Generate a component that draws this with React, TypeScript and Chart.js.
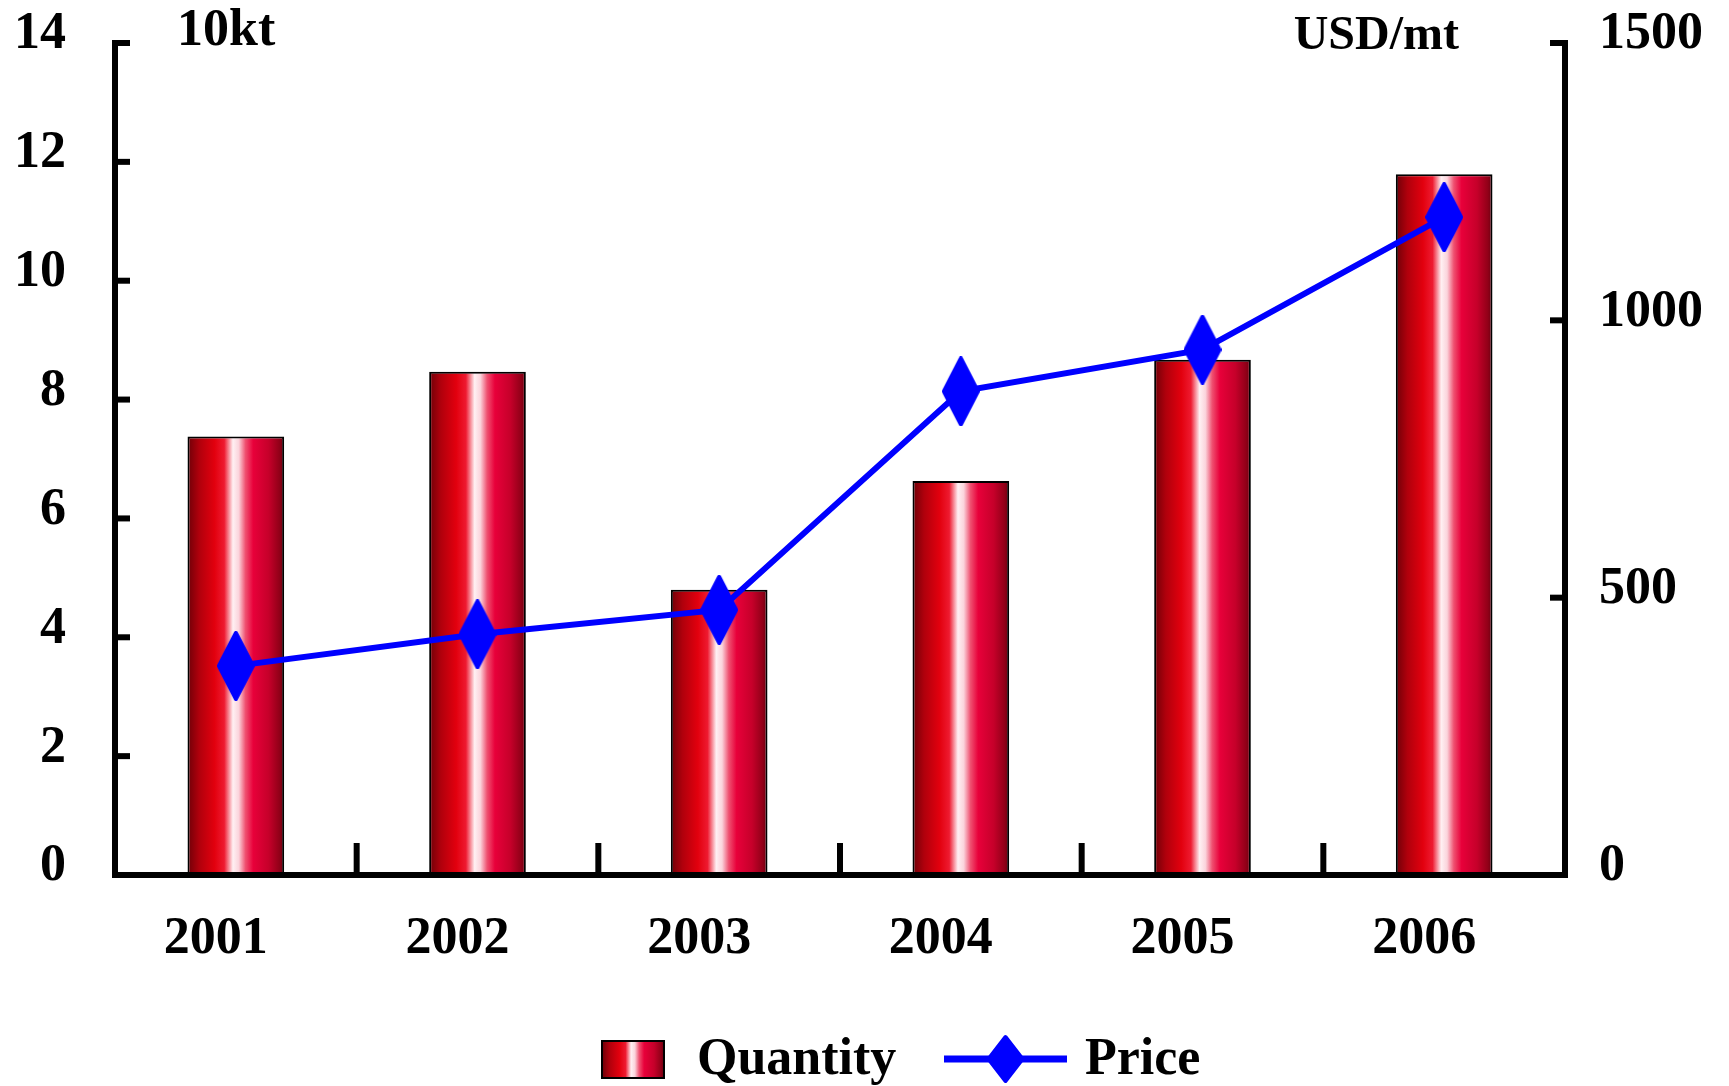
import React, { useEffect, useRef } from 'react';
import { Chart, registerables } from 'chart.js';

Chart.register(...registerables);

const years = ['2001', '2002', '2003', '2004', '2005', '2006'];
const quantity = [7.38, 8.47, 4.8, 6.63, 8.67, 11.79];
const price = [377, 434, 478, 872, 947, 1186];
const quantityLabel = 'Quantity';
const priceLabel = 'Price';
const leftUnit = '10kt';
const rightUnit = 'USD/mt';
const leftMax = 14;
const leftStep = 2;
const rightMax = 1500;
const rightStep = 500;

const W = 1729;
const H = 1086;
const FAMILY = '"Liberation Serif", "Times New Roman", serif';
const FONT = 'bold 52px ' + FAMILY;

function barGradient(ctx: CanvasRenderingContext2D, x0: number, x1: number) {
  const g = ctx.createLinearGradient(x0, 0, x1, 0);
  g.addColorStop(0, '#6e0008');
  g.addColorStop(0.12, '#b0000c');
  g.addColorStop(0.28, '#e2000e');
  g.addColorStop(0.38, '#ee1a30');
  g.addColorStop(0.47, '#fff0f3');
  g.addColorStop(0.53, '#fbd4dc');
  g.addColorStop(0.6, '#ef5070');
  g.addColorStop(0.68, '#e8003a');
  g.addColorStop(0.84, '#c6002a');
  g.addColorStop(0.95, '#920018');
  g.addColorStop(1, '#6a0010');
  return g;
}

function diamondPath(ctx: CanvasRenderingContext2D, cx: number, cy: number, w: number, h: number) {
  ctx.beginPath();
  ctx.moveTo(cx, cy - h / 2);
  ctx.lineTo(cx + w / 2, cy);
  ctx.lineTo(cx, cy + h / 2);
  ctx.lineTo(cx - w / 2, cy);
  ctx.closePath();
}

function makeDiamond(w: number, h: number) {
  const c = document.createElement('canvas');
  c.width = w;
  c.height = h;
  const ctx = c.getContext('2d')!;
  ctx.fillStyle = '#0000ff';
  ctx.strokeStyle = '#0000ff';
  ctx.lineWidth = 4;
  ctx.lineJoin = 'round';
  diamondPath(ctx, w / 2, h / 2, w - 4, h - 4);
  ctx.fill();
  ctx.stroke();
  return c;
}

const gradientPlugin = {
  id: 'barGradient',
  beforeDatasetsDraw(chart: any) {
    chart.data.datasets.forEach((ds: any, di: number) => {
      if (ds.type !== 'bar') return;
      const meta = chart.getDatasetMeta(di);
      meta.data.forEach((el: any) => {
        const { x, width } = el.getProps(['x', 'width'], true);
        if (isFinite(x) && isFinite(width) && el.options) {
          el.options.backgroundColor = barGradient(chart.ctx, x - width / 2, x + width / 2);
        }
      });
    });
  },
};

const axesPlugin = {
  id: 'customAxes',
  afterDraw(chart: any) {
    const ctx: CanvasRenderingContext2D = chart.ctx;
    const area = chart.chartArea;
    const xs = chart.scales.x;
    const yl = chart.scales.y;
    const yr = chart.scales.y1;
    ctx.save();
    ctx.strokeStyle = '#000';
    ctx.fillStyle = '#000';
    ctx.lineWidth = 6;
    ctx.lineCap = 'butt';
    ctx.beginPath();
    ctx.moveTo(area.left, area.top - 3);
    ctx.lineTo(area.left, area.bottom + 3);
    ctx.stroke();
    ctx.beginPath();
    ctx.moveTo(area.right, area.top - 3);
    ctx.lineTo(area.right, area.bottom + 3);
    ctx.stroke();
    ctx.beginPath();
    ctx.moveTo(area.left - 3, area.bottom);
    ctx.lineTo(area.right + 3, area.bottom);
    ctx.stroke();
    yl.ticks.forEach((t: any) => {
      const y = yl.getPixelForValue(t.value);
      ctx.beginPath();
      ctx.moveTo(area.left, y);
      ctx.lineTo(area.left + 15, y);
      ctx.stroke();
    });
    yr.ticks.forEach((t: any) => {
      const y = yr.getPixelForValue(t.value);
      ctx.beginPath();
      ctx.moveTo(area.right, y);
      ctx.lineTo(area.right - 15, y);
      ctx.stroke();
    });
    for (let i = 1; i < years.length; i++) {
      const x = (xs.getPixelForValue(i - 1) + xs.getPixelForValue(i)) / 2;
      ctx.beginPath();
      ctx.moveTo(x, area.bottom);
      ctx.lineTo(x, area.bottom - 32);
      ctx.stroke();
    }
    ctx.font = FONT;
    ctx.textBaseline = 'alphabetic';
    ctx.textAlign = 'left';
    ctx.fillText(leftUnit, 177, 45);
    ctx.font = 'bold 48px ' + FAMILY;
    ctx.textAlign = 'right';
    ctx.fillText(rightUnit, 1459, 49);

    ctx.font = FONT;
    const ds = chart.data.datasets;
    const ly = 1059;
    ctx.fillStyle = barGradient(ctx, 602, 664);
    ctx.fillRect(602, 1041, 62, 37);
    ctx.lineWidth = 2;
    ctx.strokeStyle = '#000';
    ctx.strokeRect(602, 1041, 62, 37);
    ctx.fillStyle = '#000';
    ctx.textAlign = 'left';
    ctx.fillText(ds[1].label, 697, 1074);
    ctx.strokeStyle = '#0000ff';
    ctx.lineWidth = 7;
    ctx.beginPath();
    ctx.moveTo(944, ly);
    ctx.lineTo(1067, ly);
    ctx.stroke();
    ctx.fillStyle = '#0000ff';
    ctx.lineWidth = 4;
    ctx.lineJoin = 'round';
    diamondPath(ctx, 1005.5, ly, 34, 44);
    ctx.fill();
    ctx.stroke();
    ctx.fillStyle = '#000';
    ctx.fillText(ds[0].label, 1085, 1074);
    ctx.restore();
  },
};

export default function App() {
  const ref = useRef<HTMLCanvasElement>(null);
  useEffect(() => {
    const canvas = ref.current!;
    const marker = makeDiamond(38, 70);
    const tickFont = { family: FAMILY, weight: 'bold' as const, size: 52 };
    const plain = (v: any) => String(v);
    const chart = new Chart(canvas, {
      type: 'bar',
      data: {
        labels: years,
        datasets: [
          {
            type: 'line',
            label: priceLabel,
            data: price,
            yAxisID: 'y1',
            borderColor: '#0000ff',
            backgroundColor: '#0000ff',
            borderWidth: 6,
            pointStyle: marker as any,
            pointRadius: 10,
            tension: 0,
            order: 0,
            clip: false as any,
          },
          {
            type: 'bar',
            label: quantityLabel,
            data: quantity,
            yAxisID: 'y',
            backgroundColor: (c: any) => '#e00010',
            borderColor: '#000',
            borderWidth: 2,
            categoryPercentage: 1,
            barPercentage: 0.4,
            order: 1,
          },
        ],
      },
      options: {
        responsive: false,
        animation: false,
        devicePixelRatio: 1,
        layout: { padding: { top: 43, left: 0, right: 0, bottom: 0 } },
        plugins: { legend: { display: false }, tooltip: { enabled: false }, title: { display: false } },
        scales: {
          x: {
            offset: true,
            grid: { display: false },
            border: { display: false },
            ticks: { font: tickFont, color: '#000', padding: 25, labelOffset: -20, maxRotation: 0, autoSkip: false },
            afterFit: (s: any) => { s.height = H - 43 - 832; s.paddingLeft = 0; s.paddingRight = 0; },
          },
          y: {
            position: 'left',
            min: 0,
            max: leftMax,
            grid: { display: false },
            border: { display: false },
            ticks: { stepSize: leftStep, font: tickFont, color: '#000', padding: 41, labelOffset: -8, callback: plain },
            afterFit: (s: any) => { s.width = 115; s.paddingTop = 0; s.paddingBottom = 0; },
          },
          y1: {
            position: 'right',
            min: 0,
            max: rightMax,
            grid: { display: false },
            border: { display: false },
            ticks: { stepSize: rightStep, font: tickFont, color: '#000', padding: 26, labelOffset: -8, callback: plain },
            afterFit: (s: any) => { s.width = W - 1565; s.paddingTop = 0; s.paddingBottom = 0; },
          },
        },
      },
      plugins: [gradientPlugin, axesPlugin],
    });
    return () => chart.destroy();
  }, []);
  return (
    <div style={{ position: 'fixed', left: 0, top: 0, width: W, height: H, background: '#fff' }}>
      <canvas ref={ref} width={W} height={H} style={{ display: 'block', width: W, height: H }} />
    </div>
  );
}
